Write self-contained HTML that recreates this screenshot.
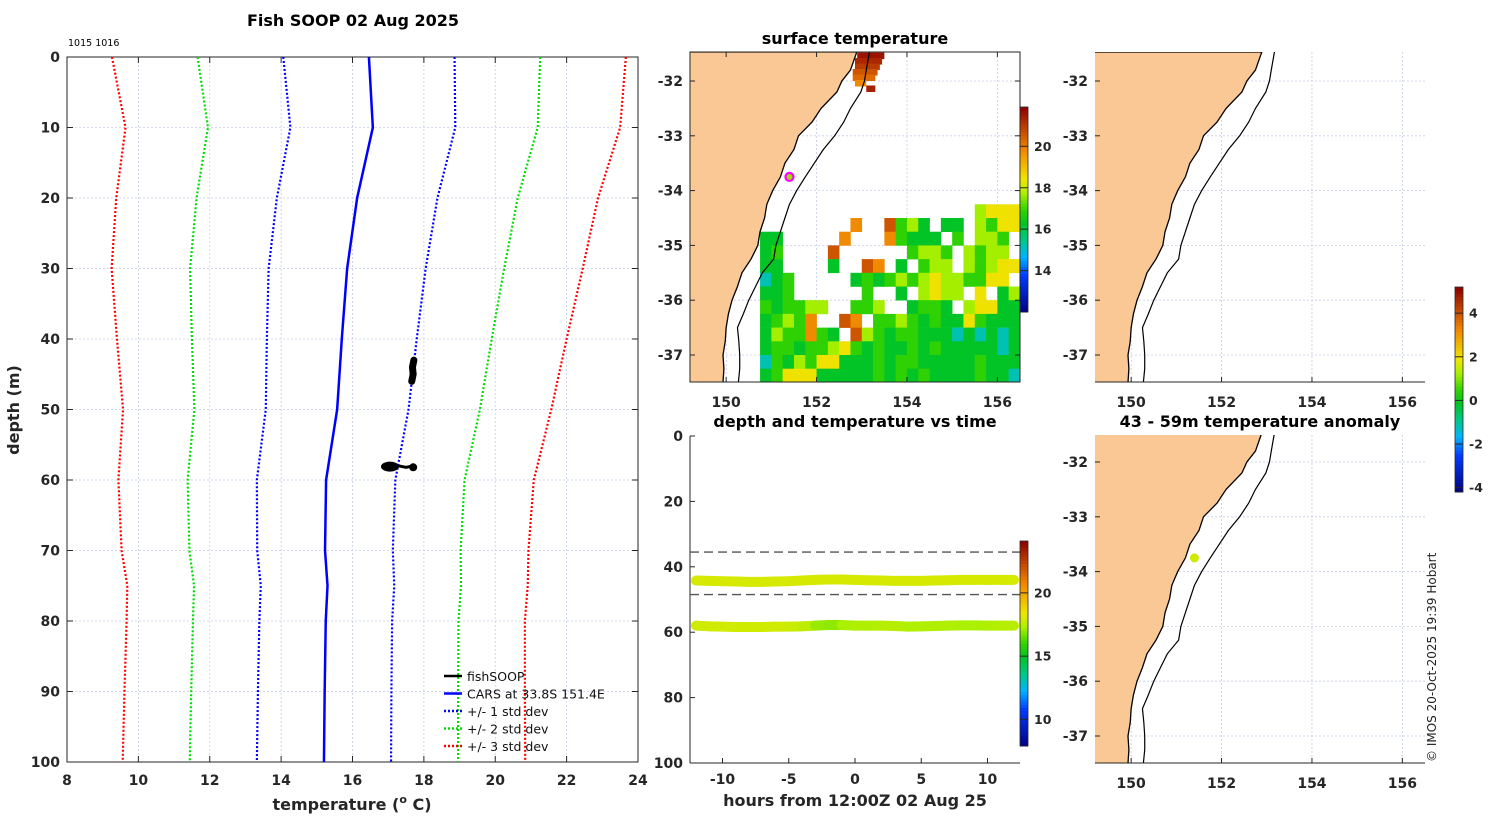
<!DOCTYPE html>
<html><head><meta charset="utf-8">
<style>
html,body{margin:0;padding:0;background:#fff;}
svg{display:block;font-family:"DejaVu Sans","Liberation Sans",sans-serif;}
.tk{font-size:14px;font-weight:bold;fill:#262626;}
.ttl{font-size:16px;font-weight:bold;fill:#000;}
</style></head>
<body>
<svg id="fig" width="1500" height="820" viewBox="0 0 1500 820" xmlns="http://www.w3.org/2000/svg">
<defs>
<clipPath id="cpL"><rect x="67" y="57" width="571" height="705"/></clipPath>
<clipPath id="cpM1"><rect x="690" y="52" width="330" height="330"/></clipPath>
<clipPath id="cpM2"><rect x="690" y="436" width="330" height="327"/></clipPath>
<clipPath id="cpR1"><rect x="1095" y="52" width="330" height="330"/></clipPath>
<clipPath id="cpR2"><rect x="1095" y="435" width="330" height="328"/></clipPath>
</defs>
<text x="353" y="26" text-anchor="middle" class="ttl">Fish SOOP 02 Aug 2025</text>
<text x="68" y="46" font-size="9.5" fill="#000">1015 1016</text>
<text x="855" y="44" text-anchor="middle" class="ttl">surface temperature</text>
<text x="855" y="427" text-anchor="middle" class="ttl">depth and temperature vs time</text>
<text x="1260" y="427" text-anchor="middle" class="ttl">43 - 59m temperature anomaly</text>
<text transform="translate(1436,762) rotate(-90)" font-size="12" fill="#222">© IMOS 20-Oct-2025 19:39 Hobart</text>
<g id="gL"></g><g id="gM1"></g><g id="gM2"></g><g id="gR1"></g><g id="gR2"></g><g id="gCB"></g>
</svg>
<script>
// ---------- data: left profile ----------
const profDepth = [0,10,20,30,40,50,60,70,75,80,90,100];
const carsMean  = [16.46,16.57,16.13,15.85,15.7,15.57,15.26,15.23,15.3,15.25,15.22,15.2];
const carsStd   = [2.4,2.31,2.25,2.2,2.1,2.0,1.94,1.9,1.87,1.86,1.87,1.88];
const fishTemp  = [17.72,17.68,17.7,17.66,16.95,17.05,17.15,17.3,17.5,17.7];
const fishDepth = [43.0,44.0,45.0,46.0,58.1,57.8,58.3,58.0,58.2,58.0];
const tempTicks = [8,10,12,14,16,18,20,22,24];
const depthTicks = [0,10,20,30,40,50,60,70,80,90,100];
// ---------- data: time series ----------
const hours = [-12,-11,-10,-9,-8,-7,-6,-5,-4,-3,-2,-1,0,1,2,3,4,5,6,7,8,9,10,11,12];
const band1Depth = [44.2,44.3,44.4,44.5,44.6,44.6,44.5,44.4,44.2,44.0,43.9,43.9,44.0,44.1,44.2,44.3,44.3,44.3,44.2,44.1,44.0,44.0,44.0,44.0,44.0];
const band1Temp  = [18.0,18.0,18.0,18.0,18.0,18.0,18.0,18.0,18.0,18.0,18.0,18.0,18.0,18.0,18.0,18.0,18.0,18.0,18.0,18.0,18.0,18.0,18.0,18.0,18.0];
const band2Depth = [58.0,58.2,58.3,58.4,58.4,58.4,58.3,58.3,58.2,58.0,57.8,57.8,58.0,58.0,58.0,58.1,58.3,58.2,58.1,58.0,57.9,57.9,58.0,58.0,58.0];
const band2Temp  = [17.9,17.9,17.9,17.9,17.9,17.9,17.9,17.8,17.6,17.1,17.0,17.3,17.4,17.4,17.5,17.5,17.4,17.4,17.4,17.4,17.3,17.3,17.4,17.5,17.5];
const dashDepths = [35.5,48.5];
const hourTicks = [-10,-5,0,5,10];
const tsDepthTicks = [0,20,40,60,80,100];
// ---------- data: maps ----------
const coastLat = [-31.47,-31.8,-32,-32.2,-32.5,-32.75,-33,-33.25,-33.5,-33.75,-34,-34.25,-34.5,-34.75,-35,-35.25,-35.5,-35.75,-36,-36.25,-36.5,-36.75,-37,-37.25,-37.5];
const coastLon = [152.89,152.75,152.56,152.45,152.1,151.9,151.6,151.5,151.3,151.2,151.03,150.9,150.85,150.75,150.7,150.55,150.35,150.25,150.13,150.05,150.0,149.98,149.93,149.95,149.93];
const shelfLon = [153.17,153.1,153.06,152.98,152.75,152.6,152.4,152.15,151.95,151.75,151.56,151.4,151.3,151.2,151.1,151.05,150.8,150.65,150.5,150.38,150.25,150.28,150.3,150.3,150.27];
const sstRows = [
"......................yYYY",
"...........o..rGyg.gg.yGYY",
"...gg.....o...oGggg.G.yyG.",
"...gG....r......GyyG.yGyy.",
"...gg....g..ro.g.Gyy.yGyYY",
"...cgG.....gGgGyGyYyyGGYY.",
"...ggG......G..g.yYyy.Y.gy",
"...GgGGyy..GGy..gGGg.yYYgg",
"...gGyGo..ro.GGyGgGggYGggg",
"...gyGGoGg.ryGgGGgggcgcgcg",
"...gGGgGGyYGgGggGgGgggggcg",
"...cGgyGYYgggGgGGgggggGggg",
"...gGYYYgggggGgGgGggggGggc"];
const sstCodes = ['c','g','G','y','Y','o','r','R'];
const sstCodeTemp = [15.2,16.3,16.9,17.7,18.5,19.8,20.6,21.6];
const warmLat = [-31.5,-31.6,-31.7,-31.8,-31.9,-32.0,-32.1];
const warmLon = [[152.9,153.5],[152.85,153.45],[152.85,153.4],[152.8,153.35],[152.8,153.3],[152.85,153.1],[153.1,153.3]];
const warmTemp = [21.6,21.3,21.0,20.6,20.3,19.8,21.4];
const latTicks = [-32,-33,-34,-35,-36,-37];
const lonTicks = [150,152,154,156];
const fishLon = 151.4, fishLat = -33.75, anomValue = 1.6;
const sstCbTicks = [14,16,18,20];
const tsCbTicks = [10,15,20];
const anCbTicks = [-4,-2,0,2,4];

const NS='http://www.w3.org/2000/svg';
function mk(tag, attrs, parent){const e=document.createElementNS(NS,tag);for(const k in attrs)e.setAttribute(k,attrs[k]);parent.appendChild(e);return e;}
const cmStops=[[0,[0,0,128]],[0.18,[0,60,255]],[0.27,[0,180,255]],[0.35,[0,200,140]],[0.43,[0,195,40]],[0.5,[50,210,0]],[0.58,[170,240,0]],[0.65,[240,230,0]],[0.8,[240,130,0]],[1,[140,0,0]]];
function jet(f){f=Math.max(0,Math.min(1,f));
 for(let i=1;i<cmStops.length;i++){if(f<=cmStops[i][0]){const a=cmStops[i-1],b=cmStops[i];const t=(f-a[0])/(b[0]-a[0]);
  const c=a[1].map((v,k)=>Math.round(v+(b[1][k]-v)*t));return `rgb(${c[0]},${c[1]},${c[2]})`;}}
 return 'rgb(140,0,0)';}

// ================= LEFT PROFILE =================
const gL=document.getElementById('gL');
const LX=t=>67+(t-8)*(571/16), LY=d=>57+d*7.05;
for(const t of tempTicks){ if(t>8&&t<24){const l=mk('line',{x1:LX(t),x2:LX(t),y1:57,y2:762,stroke:'#c5cde6','stroke-width':0.8,'stroke-dasharray':'2,2'},gL);

}
 const tx=mk('text',{x:LX(t),y:785,'text-anchor':'middle',class:'tk'},gL);tx.textContent=t;
 
 
 mk('line',{x1:LX(t),x2:LX(t),y1:762,y2:756,stroke:'#262626'},gL);mk('line',{x1:LX(t),x2:LX(t),y1:57,y2:63,stroke:'#262626'},gL);}
for(const d of depthTicks){ if(d>0&&d<100){const l=mk('line',{x1:67,x2:638,y1:LY(d),y2:LY(d),stroke:'#c5cde6','stroke-width':0.8,'stroke-dasharray':'2,2'},gL);

}
 const tx=mk('text',{x:60,y:LY(d)+5,'text-anchor':'end',class:'tk'},gL);tx.textContent=d;
 
 
 mk('line',{x1:67,x2:73,y1:LY(d),y2:LY(d),stroke:'#262626'},gL);mk('line',{x1:638,x2:632,y1:LY(d),y2:LY(d),stroke:'#262626'},gL);}
const frL=mk('rect',{x:67,y:57,width:571,height:705,fill:'none',stroke:'#262626','stroke-width':1},gL);


const cl=mk('g',{'clip-path':'url(#cpL)'},gL);
const sdCols=['#0000ff','#00dd00','#ff0000'];
for(let k=1;k<=3;k++){for(const s of [-1,1]){
 const pts=profDepth.map((d,i)=>LX(carsMean[i]+s*k*carsStd[i])+','+LY(d)).join(' ');
 const p=mk('polyline',{points:pts,fill:'none',stroke:sdCols[k-1],'stroke-width':2.2,'stroke-dasharray':'2,2'},cl);
 
 }}
const mp=mk('polyline',{points:profDepth.map((d,i)=>LX(carsMean[i])+','+LY(d)).join(' '),fill:'none',stroke:'#0000ff','stroke-width':2.5},cl);


const fishG=mk('g',{},cl);


mk('polyline',{points:fishTemp.slice(0,4).map((t,i)=>LX(t)+','+LY(fishDepth[i])).join(' '),fill:'none',stroke:'#000','stroke-width':7,'stroke-linecap':'round'},fishG);
mk('polyline',{points:fishTemp.slice(4).map((t,i)=>LX(t)+','+LY(fishDepth[i+4])).join(' '),fill:'none',stroke:'#000','stroke-width':3,'stroke-linecap':'round'},fishG);
mk('ellipse',{cx:LX(17.05),cy:LY(58.1),rx:9,ry:5,fill:'#000'},fishG);
mk('ellipse',{cx:LX(17.7),cy:LY(58.2),rx:4,ry:4,fill:'#000'},fishG);
// legend
const legItems=[['fishSOOP','#000',''],['CARS at 33.8S 151.4E','#0000ff',''],['+/- 1 std dev','#0000ff','2,2'],['+/- 2 std dev','#00dd00','2,2'],['+/- 3 std dev','#ff0000','2,2']];
legItems.forEach((it,i)=>{const y=676+i*17.5;const g=mk('g',{},gL);
 
 
 const a={x1:444,x2:462,y1:y,y2:y,stroke:it[1],'stroke-width':2.5};if(it[2])a['stroke-dasharray']=it[2];mk('line',a,g);
 const t=mk('text',{x:467,y:y+5,'font-size':12.5,fill:'#111'},g);t.textContent=it[0];});
const xl=mk('text',{x:352,y:810,'text-anchor':'middle','font-size':16,'font-weight':'bold',fill:'#262626'},gL);
xl.innerHTML='temperature (<tspan font-size="11" dy="-7">o</tspan><tspan dy="7"> C)</tspan>';


const yl=mk('text',{transform:'translate(19,410) rotate(-90)','text-anchor':'middle','font-size':16,'font-weight':'bold',fill:'#262626'},gL);
yl.textContent='depth (m)';



// ================= MAPS =================
function drawMap(gid, x0, yTop, yAt32, clip, opts){
 const g=document.getElementById(gid);
 const MX=lon=>x0+(lon-149.2)*45.2, MY=lat=>yAt32+(-32-lat)*54.8;
 const H=opts.h, W=330;
 const c=mk('g',{'clip-path':'url(#'+clip+')'},g);
 for(const lon of lonTicks){const l=mk('line',{x1:MX(lon),x2:MX(lon),y1:yTop,y2:yTop+H,stroke:'#c5cde6','stroke-width':0.8,'stroke-dasharray':'2,2'},c);
  
  }
 for(const lat of latTicks){const l=mk('line',{x1:x0,x2:x0+W,y1:MY(lat),y2:MY(lat),stroke:'#c5cde6','stroke-width':0.8,'stroke-dasharray':'2,2'},c);
  
  }
 if(opts.sst){
  const sg=mk('g',{},c);
  
  
  sstRows.forEach((row,r)=>{for(let i=0;i<row.length;i++){const ch=row[i];const k=sstCodes.indexOf(ch);if(k<0)continue;
   const lon=150+0.25*i, lat=-34.25-0.25*r;
   mk('rect',{x:MX(lon),y:MY(lat),width:11.6,height:14,fill:jet((sstCodeTemp[k]-12)/9.9)},sg);}});
  warmLat.forEach((lat,i)=>{mk('rect',{x:MX(warmLon[i][0]),y:MY(lat)-1,width:MX(warmLon[i][1])-MX(warmLon[i][0]),height:6.5,fill:jet((warmTemp[i]-12)/9.9)},sg);});
 }
 let pts=(x0-5)+','+MY(coastLat[0]);
 coastLat.forEach((lat,i)=>{pts+=' '+MX(coastLon[i])+','+MY(lat);});
 pts+=' '+(x0-5)+','+MY(-37.5);
 const land=mk('polygon',{points:pts,fill:'#f9c894',stroke:'#000','stroke-width':1.3},c);
 
 
 const sh=mk('polyline',{points:coastLat.map((lat,i)=>MX(shelfLon[i])+','+MY(lat)).join(' '),fill:'none',stroke:'#000','stroke-width':1.2},c);
 
 
 if(opts.marker){const m=mk('circle',{cx:MX(fishLon),cy:MY(fishLat),r:4,fill:'#9ae000',stroke:'#ff00ff','stroke-width':2.2},c);
  
  }
 if(opts.anom){const m=mk('circle',{cx:MX(fishLon),cy:MY(fishLat),r:4.5,fill:jet((anomValue+4.2)/9.4)},c);
  
  }
 const ax=mk('g',{},g);
 
 
 if(opts.box) mk('rect',{x:x0,y:yTop,width:W,height:H,fill:'none',stroke:'#262626'},ax);
 else {mk('line',{x1:x0,x2:x0+W,y1:yTop+H,y2:yTop+H,stroke:'#262626'},ax);}
 for(const lon of lonTicks){mk('line',{x1:MX(lon),x2:MX(lon),y1:yTop+H,y2:yTop+H-5,stroke:'#262626'},ax);
  if(opts.box) mk('line',{x1:MX(lon),x2:MX(lon),y1:yTop,y2:yTop+5,stroke:'#262626'},ax);
  const t=mk('text',{x:MX(lon),y:yTop+H+25,'text-anchor':'middle',class:'tk'},g);t.textContent=lon;
  
  }
 for(const lat of latTicks){mk('line',{x1:x0,x2:x0+5,y1:MY(lat),y2:MY(lat),stroke:'#262626'},ax);
  if(opts.box) mk('line',{x1:x0+W,x2:x0+W-5,y1:MY(lat),y2:MY(lat),stroke:'#262626'},ax);
  const t=mk('text',{x:x0-7,y:MY(lat)+5,'text-anchor':'end',class:'tk'},g);t.textContent=lat;
  
  }
}
drawMap('gM1',690,52,81,'cpM1',{h:330,sst:true,marker:true,box:true});
drawMap('gR1',1095,52,81,'cpR1',{h:330});
drawMap('gR2',1095,435,462,'cpR2',{h:328,anom:true});

// ================= TIME SERIES =================
const gM2=document.getElementById('gM2');
const TX=h=>855+h*13.25, TY=d=>436+d*3.27;
const tsFrame=mk('g',{},gM2);


mk('line',{x1:690,x2:690,y1:436,y2:763,stroke:'#262626'},tsFrame);
mk('line',{x1:690,x2:1020,y1:763,y2:763,stroke:'#262626'},tsFrame);
for(const h of hourTicks){mk('line',{x1:TX(h),x2:TX(h),y1:763,y2:758,stroke:'#262626'},tsFrame);
 const t=mk('text',{x:TX(h),y:784,'text-anchor':'middle',class:'tk'},gM2);t.textContent=h;
 
 }
for(const d of tsDepthTicks){mk('line',{x1:690,x2:695,y1:TY(d),y2:TY(d),stroke:'#262626'},tsFrame);
 const t=mk('text',{x:683,y:TY(d)+5,'text-anchor':'end',class:'tk'},gM2);t.textContent=d;
 
 }
for(const d of dashDepths){const l=mk('line',{x1:690,x2:1020,y1:TY(d),y2:TY(d),stroke:'#555','stroke-width':1.4,'stroke-dasharray':'9,5'},gM2);
 
 }
function band(dep,tmp,name){const g=mk('g',{'clip-path':'url(#cpM2)'},gM2);
 
 
 for(let i=0;i<hours.length-1;i++){mk('line',{x1:TX(hours[i]),y1:TY(dep[i]),x2:TX(hours[i+1]),y2:TY(dep[i+1]),stroke:jet((tmp[i]-7.9)/16.2),'stroke-width':10,'stroke-linecap':'round'},g);}}
band(band1Depth,band1Temp,'band-44m');
band(band2Depth,band2Temp,'band-58m');
const tsx=mk('text',{x:855,y:806,'text-anchor':'middle','font-size':16,'font-weight':'bold',fill:'#262626'},gM2);
tsx.textContent='hours from 12:00Z 02 Aug 25';



// ================= COLORBARS =================
const gCB=document.getElementById('gCB');
function colorbar(x,y0,y1,vmin,vmax,ticks,name){const g=mk('g',{},gCB);
 
 
 const n=64,h=(y1-y0)/n;
 for(let i=0;i<n;i++){mk('rect',{x:x,y:y1-(i+1)*h,width:8,height:h+0.5,fill:jet((i+0.5)/n)},g);}
 mk('rect',{x:x,y:y0,width:8,height:y1-y0,fill:'none',stroke:'#262626','stroke-width':0.8},g);
 for(const t of ticks){const yy=y1-(t-vmin)/(vmax-vmin)*(y1-y0);
  mk('line',{x1:x,x2:x+8,y1:yy,y2:yy,stroke:'#262626'},g);
  const tx=mk('text',{x:x+14,y:yy+4.5,'font-size':12.5,'font-weight':'bold',fill:'#262626'},g);tx.textContent=t;}}
colorbar(1020,107,312,12.0,21.9,sstCbTicks,'sst-colorbar');
colorbar(1020,541,746,7.9,24.1,tsCbTicks,'time-colorbar');
colorbar(1455,287,492,-4.2,5.2,anCbTicks,'anomaly-colorbar');
</script>
</body></html>
